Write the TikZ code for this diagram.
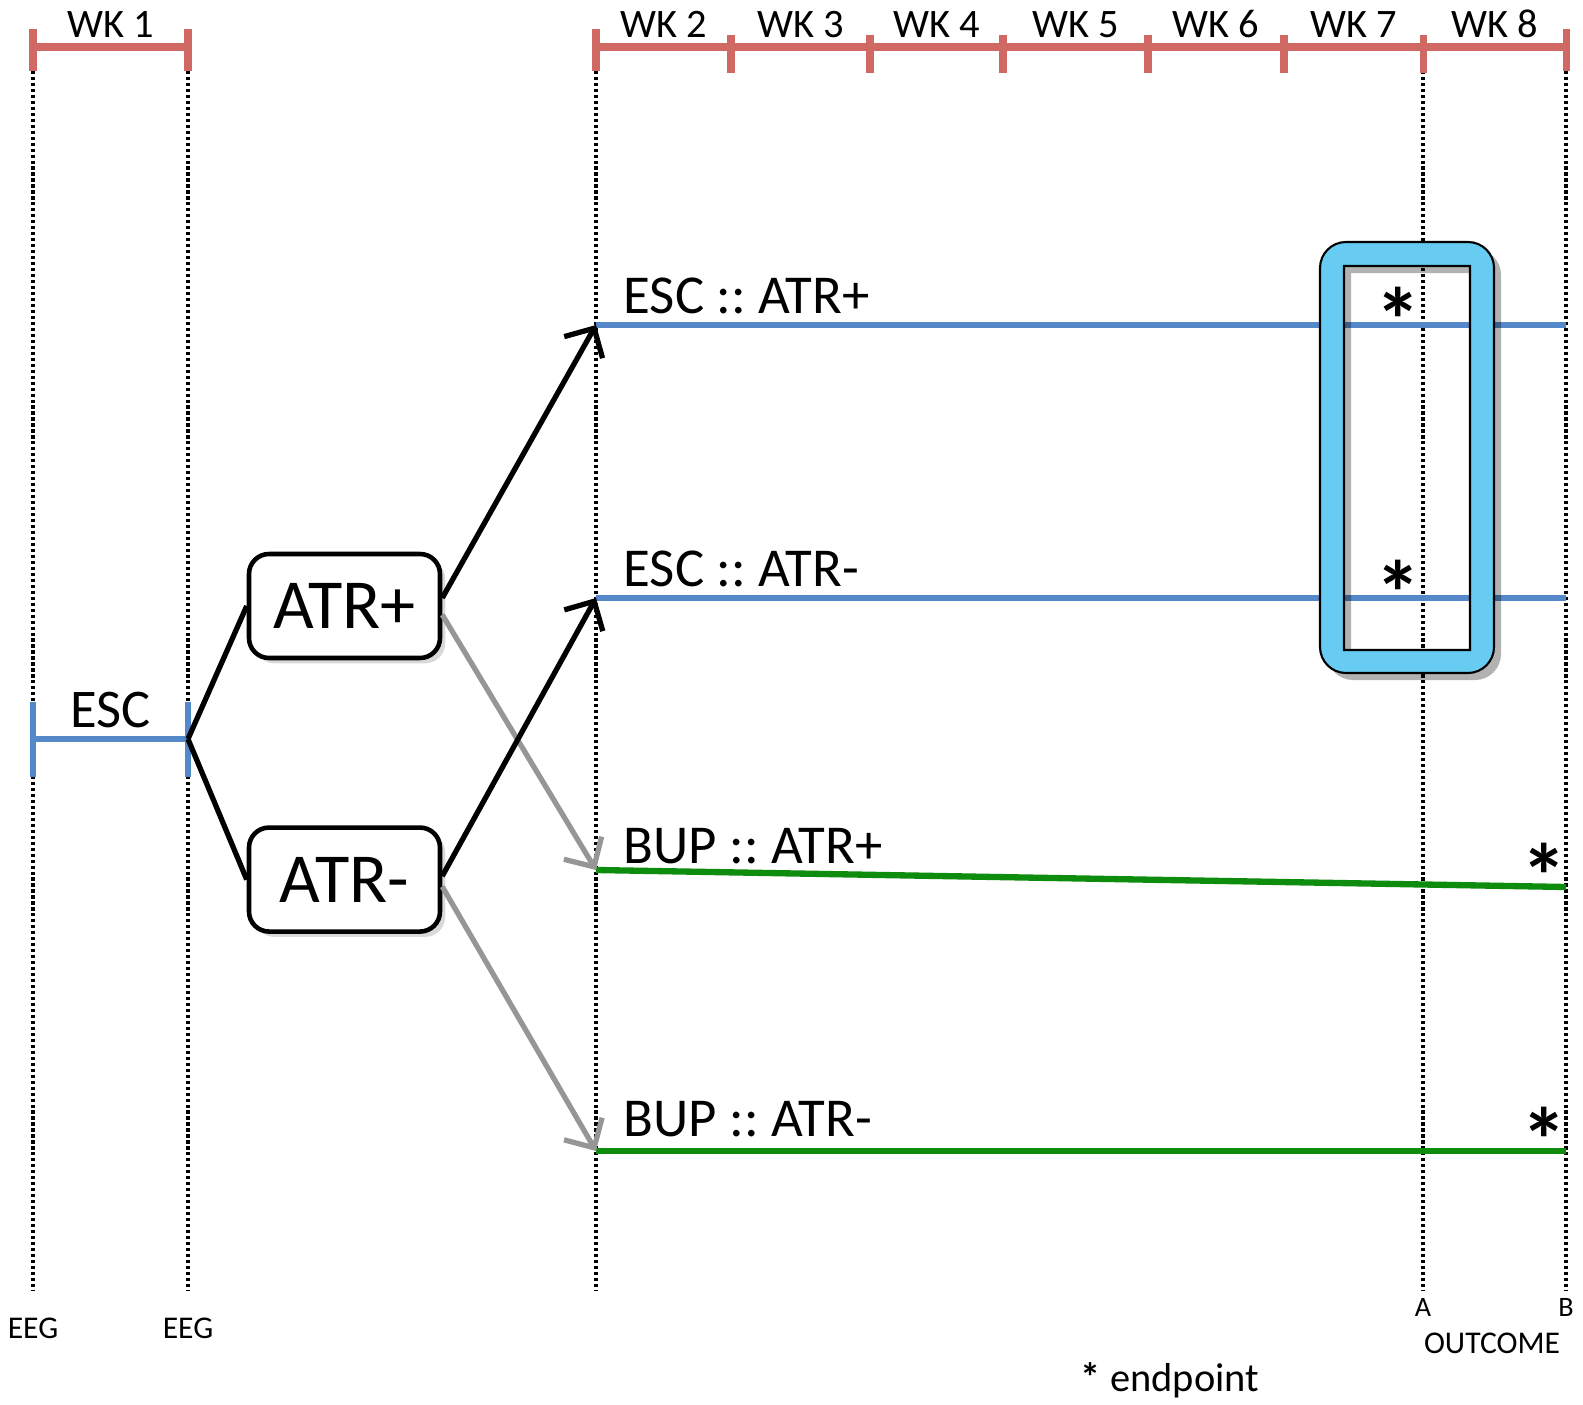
\documentclass[tikz,border=0pt]{standalone}
\usepackage{fontspec}
\setmainfont{Carlito}
\usepackage{xcolor}
\usepackage{tikz}
\usetikzlibrary{arrows.meta, positioning, calc, shadows}
\frenchspacing

\definecolor{wkred}{RGB}{208,104,99}
\definecolor{escblue}{RGB}{84,136,200}
\definecolor{bupgreen}{RGB}{14,140,14}
\definecolor{frameblue}{RGB}{104,204,242}
\definecolor{arrowgray}{RGB}{150,150,150}

\begin{document}
\begin{tikzpicture}[
  x=0.1mm, y=-0.1mm,
  wkbar/.style={draw=wkred, line width=2pt},
  wkline/.style={draw=black, line width=0.9pt, dash pattern=on 0.9pt off 0.8pt},
  wklbl/.style={font=\fontsize{11.5}{13}\selectfont, anchor=base, inner sep=0pt},
  armbox/.style={rectangle, rounded corners=2mm, minimum width=1.91cm, minimum height=1.04cm, text centered, draw=black, line width=1.3pt, fill=white, font=\fontsize{20}{22}\selectfont, drop shadow={shadow xshift=1.5pt, shadow yshift=-1.5pt, opacity=0.3}},
  armlbl/.style={font=\fontsize{15.6}{19}\selectfont, inner sep=0pt},
  escline/.style={draw=escblue, line width=1.6pt},
  bupline/.style={draw=bupgreen, line width=1.8pt},
  link/.style={line width=1.5pt},
  arrow/.style={line width=1.5pt, -{Straight Barb[length=2.2mm, width=4.4mm]}},
  endpt/.style={font=\fontsize{26}{28}\selectfont\bfseries, anchor=base, inner sep=0pt},
  small/.style={font=\fontsize{9}{11}\selectfont, inner sep=0pt}
]
\useasboundingbox (0,0) rectangle (1583,1405);

% week scale
\coordinate (k0) at (33,47);
\coordinate (k1) at (188,47);
\coordinate (k2) at (596,47);
\coordinate (k3) at (731,47);
\coordinate (k4) at (870,47);
\coordinate (k5) at (1003,47);
\coordinate (k6) at (1148,47);
\coordinate (k7) at (1284,47);
\coordinate (k8) at (1423,47);
\coordinate (k9) at (1566,47);
\coordinate (b0) at (33,1290);
\coordinate (b1) at (188,1290);
\coordinate (b2) at (596,1290);
\coordinate (b8) at (1423,1290);
\coordinate (b9) at (1566,1290);

\draw [wkline] (k0) -- (b0);
\draw [wkline] (k1) -- (b1);
\draw [wkline] (k2) -- (b2);
\draw [wkline] (k8) -- (b8);
\draw [wkline] (k9) -- (b9);

\draw [wkbar] (k0) -- (k1);
\draw [wkbar] (k2) -- (k9);
\draw [wkbar] (k0) ++(0,-18) -- ++(0,42) (k1) ++(0,-18) -- ++(0,42)
  (k2) ++(0,-18) -- ++(0,42) (k3) ++(0,-12) -- ++(0,38) (k4) ++(0,-12) -- ++(0,38)
  (k5) ++(0,-12) -- ++(0,38) (k6) ++(0,-12) -- ++(0,38) (k7) ++(0,-12) -- ++(0,38)
  (k8) ++(0,-12) -- ++(0,38) (k9) ++(0,-18) -- ++(0,42);

\node (wk1) [wklbl, yshift=2.6pt] at ($(k0)!0.5!(k1)$) {WK 1};
\node (wk2) [wklbl, yshift=2.6pt] at ($(k2)!0.5!(k3)$) {WK 2};
\node (wk3) [wklbl, yshift=2.6pt] at ($(k3)!0.5!(k4)$) {WK 3};
\node (wk4) [wklbl, yshift=2.6pt] at ($(k4)!0.5!(k5)$) {WK 4};
\node (wk5) [wklbl, yshift=2.6pt] at ($(k5)!0.5!(k6)$) {WK 5};
\node (wk6) [wklbl, yshift=2.6pt] at ($(k6)!0.5!(k7)$) {WK 6};
\node (wk7) [wklbl, yshift=2.6pt] at ($(k7)!0.5!(k8)$) {WK 7};
\node (wk8) [wklbl, yshift=2.6pt] at ($(k8)!0.5!(k9)$) {WK 8};

% first week on ESC
\coordinate (esc0) at (33,739);
\coordinate (esc1) at (188,739);
\draw [escline, line width=1.7pt] (esc0) -- (esc1);
\draw [escline, line width=1.9pt] (esc0) ++(0,-37) -- ++(0,75) (esc1) ++(0,-37) -- ++(0,75);
\node (esclbl) [font=\fontsize{15.5}{18}\selectfont, anchor=base, inner sep=0pt, yshift=3.4pt] at ($(esc0)!0.5!(esc1)$) {ESC};

% randomisation boxes
\node (atrp) [armbox] at (344.5,606) {ATR+};
\node (atrm) [armbox, below=1.65cm of atrp] {ATR-};
\draw [link] (esc1) -- (atrp.west);
\draw [link] (esc1) -- (atrm.west);

% arms
\coordinate (escp0) at (596,325);
\coordinate (escp1) at (1566,325);
\coordinate (escm0) at (596,598);
\coordinate (escm1) at (1566,598);
\coordinate (bupp0) at (596,870);
\coordinate (bupp1) at (1566,887);
\coordinate (bupm0) at (596,1151);
\coordinate (bupm1) at (1566,1151);
\draw [escline] (escp0) -- (escp1);
\draw [escline] (escm0) -- (escm1);
\draw [bupline] (bupp0) -- (bupp1);
\draw [bupline] (bupm0) -- (bupm1);

\node (lblescp) [armlbl, above right=0.1cm and 0.27cm of escp0] {ESC :: ATR+};
\node (lblescm) [armlbl, above right=0.1cm and 0.27cm of escm0] {ESC :: ATR-};
\node (lblbupp) [armlbl, above right=0.05cm and 0.27cm of bupp0] {BUP :: ATR+};
\node (lblbupm) [armlbl, above right=0.13cm and 0.27cm of bupm0] {BUP :: ATR-};

\draw [arrow, draw=arrowgray] ([yshift=-2.5pt]atrp.east) -- (bupp0);
\draw [arrow, draw=arrowgray] ([yshift=-2pt]atrm.east) -- (bupm0);
\draw [arrow] ([yshift=2.3pt]atrp.east) -- (escp0);
\draw [arrow] ([yshift=1pt]atrm.east) -- (escm0);

% outcome window
\fill [black, opacity=0.3, even odd rule, xshift=2pt, yshift=-2pt]
  [rounded corners=2.6mm] (1320,242) rectangle (1494,673)
  [sharp corners] (1344,266) rectangle (1470,650);
\fill [frameblue, draw=black, line width=0.6pt, even odd rule]
  [rounded corners=2.6mm] (1320,242) rectangle (1494,673)
  [sharp corners] (1344,266) rectangle (1470,650);

\node (ep1) [endpt] at (1398,353) {*};
\node (ep2) [endpt] at (1398,625) {*};
\node (ep3) [endpt] at (1544,908) {*};
\node (ep4) [endpt] at (1544,1172) {*};

% bottom labels
\node (eeg1) [small, below=0.27cm of b0] {EEG};
\node (eeg2) [small, below=0.27cm of b1] {EEG};
\node (outa) [small, font=\fontsize{8}{10}\selectfont, below=0.08cm of b8] {A};
\node (outb) [small, font=\fontsize{8}{10}\selectfont, below=0.08cm of b9] {B};
\node (outc) [small, anchor=base] at (1492,1353) {OUTCOME};
\node (legend) [font=\fontsize{11.5}{13}\selectfont, anchor=base, inner sep=0pt] at (1170,1391) {\textbf{*} endpoint};
\end{tikzpicture}
\end{document}
